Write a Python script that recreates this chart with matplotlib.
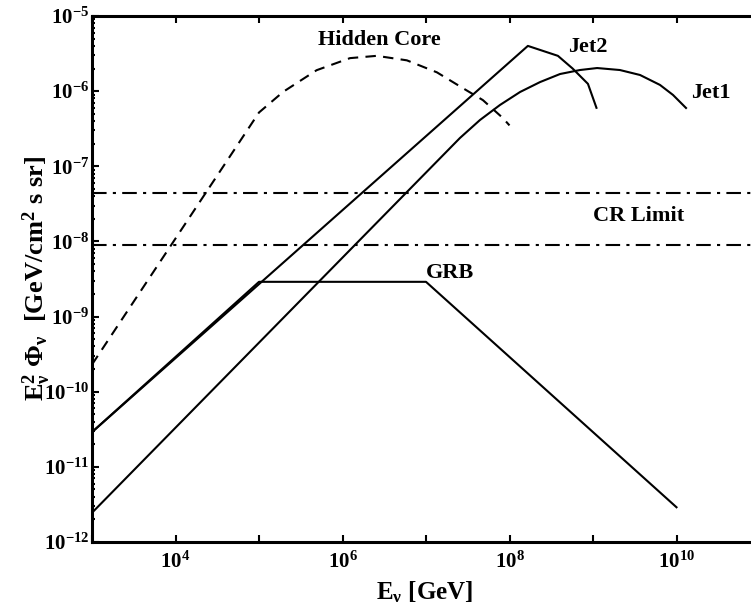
import math
import matplotlib
matplotlib.use("Agg")
import matplotlib.pyplot as plt
from matplotlib.ticker import FixedLocator, FuncFormatter, LogLocator, NullFormatter

plt.rcParams["font.family"] = ["Liberation Serif", "DejaVu Serif"]
plt.rcParams["font.weight"] = "bold"
plt.rcParams["mathtext.fontset"] = "custom"
plt.rcParams["mathtext.rm"] = "Liberation Serif:bold"
plt.rcParams["mathtext.bf"] = "Liberation Serif:bold"
plt.rcParams["mathtext.it"] = "Liberation Serif:bold:italic"

# Werte (E in GeV, E^2 Phi in GeV/cm^2 s sr)
hidden_E = [1e3, 1e5, 1.95e5, 4.9e5, 1.23e6, 2.57e6, 5.9e6, 1.35e7, 2.75e7, 4.8e7, 8.3e7, 1e8]
hidden_F = [2.3e-10, 5.2e-7, 9.8e-7, 1.9e-6, 2.75e-6, 2.95e-6, 2.57e-6, 1.78e-6, 1.1e-6, 7.6e-7, 4.4e-7, 3.5e-7]

jet2_E = [1e3, 1.66e8, 3.8e8, 5.7e8, 8.7e8, 1.1e9]
jet2_F = [2.9e-11, 4.0e-6, 2.95e-6, 2.0e-6, 1.25e-6, 6.0e-7]

jet1_E = [1e3, 2.55e7, 4.43e7, 7.7e7, 1.34e8, 2.32e8, 4.03e8, 6.98e8, 1.12e9,
          2.1e9, 3.66e9, 6.34e9, 9.08e9, 1.3e10]
jet1_F = [2.45e-12, 2.38e-7, 4.13e-7, 6.55e-7, 9.75e-7, 1.32e-6, 1.69e-6, 1.91e-6, 2.03e-6,
          1.91e-6, 1.64e-6, 1.21e-6, 8.9e-7, 5.97e-7]

grb_E = [1e3, 1e5, 1e7, 1e10]
grb_F = [2.9e-11, 2.9e-9, 2.9e-9, 2.9e-12]

cr_limits = [4.4e-8, 9.0e-9]

labels = ["Hidden Core", "Jet2", "Jet1", "CR Limit", "GRB"]
label_E = [2.8e6, 8.7e8, 2.6e10, 3.5e9, 1.95e7]
label_F = [4.8e-6, 3.9e-6, 9.5e-7, 2.2e-8, 3.8e-9]

W, H = 751, 611
fig = plt.figure(figsize=(W / 100, H / 100), dpi=100)
# rechter Rand liegt knapp ausserhalb des Bildes (wie im Original abgeschnitten)
ax = fig.add_axes([92 / W, (H - 542) / H, (760 - 92) / W, 526 / H])

lw = 1.5
ax.loglog(hidden_E, hidden_F, color="k", lw=lw, ls=(0, (5, 3.5)))
ax.loglog(jet2_E, jet2_F, color="k", lw=lw)
ax.loglog(jet1_E, jet1_F, color="k", lw=lw)
ax.loglog(grb_E, grb_F, color="k", lw=lw)
for c in cr_limits:
    ax.axhline(c, color="k", lw=lw, ls=(0, (7, 3, 1.5, 3)))

for s, x, y in zip(labels, label_E, label_F):
    ax.text(x, y, s, fontsize=16, fontweight="bold", ha="center", va="center")

ax.set_xlim(1e3, 1e11)
ax.set_ylim(1e-12, 1e-5)


def xfmt(v, p):
    k = round(math.log10(v))
    return r"$\mathrm{10^{%d}}$" % k if k % 2 == 0 else ""


ax.xaxis.set_major_locator(FixedLocator([10.0**k for k in range(3, 12)]))
ax.xaxis.set_minor_locator(FixedLocator([]))
ax.xaxis.set_major_formatter(FuncFormatter(xfmt))
ax.yaxis.set_major_locator(LogLocator(base=10, numticks=20))
ax.yaxis.set_minor_locator(LogLocator(base=10, subs=range(2, 10), numticks=20))
ax.yaxis.set_minor_formatter(NullFormatter())
ax.yaxis.set_major_formatter(FuncFormatter(
    lambda v, p: r"$\mathrm{10^{%d}}$" % round(math.log10(v))))

ax.tick_params(which="both", direction="in", top=True, right=True, width=1.5)
ax.tick_params(which="major", length=5, labelsize=15)
ax.tick_params(which="minor", length=2.5)
ax.tick_params(axis="x", pad=7)
ax.tick_params(axis="y", pad=2)
for sp in ax.spines.values():
    sp.set_linewidth(2.2)

ax.set_xlabel(r"$\mathrm{E_{ν}\ [GeV]}$", fontsize=18)
ax.xaxis.set_label_coords((425 - 92) / 668, (542 - 579) / 526)
ax.set_ylabel(r"$\mathrm{E_{ν}^{2}\ Φ_{ν}\ \ [GeV/cm^{2}\ s\ sr]}$", fontsize=19)
ax.yaxis.set_label_coords((53 - 92) / 668, (542 - 279) / 526)

fig.savefig("out.png", dpi=100)
